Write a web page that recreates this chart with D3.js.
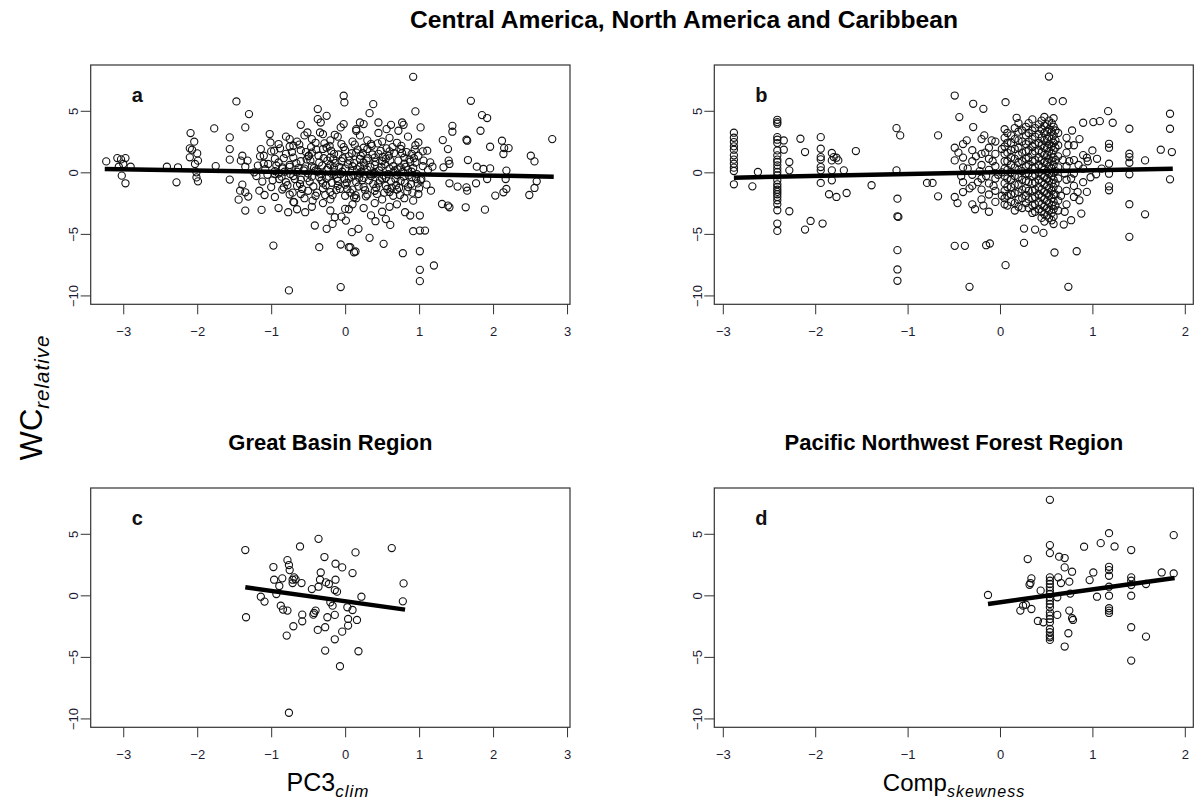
<!DOCTYPE html>
<html>
<head>
<meta charset="utf-8">
<script src="https://cdn.jsdelivr.net/npm/d3@7"></script>
<style>
  html, body { margin: 0; padding: 0; background: #fff; }
  svg { display: block; font-family: Arial, "Liberation Sans", sans-serif; }
</style>
</head>
<body>
<svg id="chart" width="1199" height="801"></svg>
<script>
// ---- data -----------------------------------------------------------------
const xTicksClim = [-3, -2, -1, 0, 1, 2, 3];
const xTicksSkew = [-3, -2, -1, 0, 1, 2];
const yTicks = [5, 0, -5, -10];
const panelLetters = ["a", "b", "c", "d"];

// a: WC_relative vs PC3_clim, whole region
const pointsA = [
  [-3.23,0.89],[-3.08,1.16],[-3.03,1.05],[-2.97,1.16],[-3.0,0.68],[-2.9,0.46],[-3.02,-0.27],[-2.97,-0.89],[-3.06,0.46],
  [-2.41,0.46],[-2.28,-0.81],[-2.26,0.41],[-2.09,3.19],[-2.04,2.49],[-2.1,1.95],[-2.07,1.84],[-2.1,1.22],[-2.0,1.54],
  [-1.99,0.95],[-2.01,0],[-2.01,-0.41],[-1.99,-0.73],[-2.03,0.68],[-1.77,3.57],[-1.75,0.51],[-1.56,2.84],[-1.56,1.89],
  [-1.56,1.03],[-1.56,-0.59],[-1.47,5.76],[-1.3,4.73],[-1.35,3.65],[-1.39,1.35],[-1.41,0.95],[-1.32,0.95],[-1.35,0.46],
  [-1.23,0],[-1.39,-1.0],[-1.42,-1.49],[-1.35,-1.62],[-1.31,-1.97],[-1.44,-2.22],[-1.35,-3.11],[-1.13,-3.05],[-1.16,-1.49],
  [-1.09,-1.84],[-1.14,1.89],[-1.1,1.35],[-1.02,3.11],[-1.01,2.43],[-1.04,0.68],[-0.97,-5.95],[-0.96,1.76],[-0.95,-0.14],
  [-0.89,-0.54],[-0.85,0.41],[-0.83,-1.22],[-0.77,-3.24],[-0.76,-9.59],[-0.75,2.7],[-0.7,2.16],[-0.69,-2.43],[-0.6,3.86],
  [-0.6,-1.76],[-0.54,-3.24],[-0.51,3.24],[-0.49,1.35],[-0.44,-2.3],[-0.41,-4.32],[-0.37,5.14],[-0.37,4.32],[-0.33,4.05],
  [-0.35,-6.08],[-0.34,3.24],[-0.25,4.59],[-0.25,-4.59],[-0.17,-4.19],[-0.14,-3.65],[-0.06,-5.86],[-0.06,-9.32],[-0.02,6.22],
  [-0.01,5.68],[-0.06,3.65],[-0.14,3.05],[0.01,-3.92],[0.07,-6.08],[0.14,-6.43],[0.0,-2.97],[0.12,-2.03],[0.15,3.38],
  [0.92,7.76],[0.38,5.54],[0.33,4.81],[0.95,4.95],[1.7,5.81],[1.85,4.65],[1.92,4.41],[1.83,3.38],[1.45,3.78],[1.45,3.3],
  [1.32,2.62],[1.64,2.65],[1.65,2.57],[1.96,2.08],[2.12,2.57],[2.15,1.97],[2.21,1.97],[2.14,1.49],[2.8,2.7],[2.51,1.35],
  [2.56,0.89],[1.39,1.89],[1.4,0.95],[1.41,0.68],[1.33,0.41],[1.66,1.0],[1.78,0.46],[1.87,0.27],[1.96,0.32],[2.18,0.14],
  [2.17,-0.54],[1.92,-0.54],[1.77,-0.89],[1.64,-1.22],[1.65,-1.49],[1.52,-1.16],[1.41,-0.89],[1.41,-2.84],[1.31,-2.57],
  [1.39,-2.7],[1.63,-2.84],[1.89,-3.03],[2.03,-1.89],[2.14,-1.62],[2.18,-1.35],[2.49,-1.84],[2.56,-1.27],[2.59,-0.73],
  [1.01,-3.51],[1.01,-4.73],[1.08,-4.73],[0.92,-4.78],[0.78,-6.57],[1.01,-6.41],[1.01,-7.92],[1.01,-8.84],[1.2,-7.57],
  [0.61,-4.27],[0.52,-5.81],[0.33,-5.32],[0.12,-6.49],[0.05,-6.08],[0.41,-3.97],[0.09,-4.86],[0.18,-4.59],
  [1.16,-1.49],[1.03,-0.54],[0.99,-1.76],[0.92,-2.3],[0.81,-3.24],[0.88,-3.51],[1.02,3.65],[0.99,2.43],[1.11,1.76],
  [1.15,0.81],[1.18,0.46],[0.77,4.05],[0.79,3.86],[0.62,3.86],[0.72,3.38],[0.56,3.51],[0.45,4.05],[0.25,3.92],[0.2,4.05],
  [0.15,3.51],[-0.02,3.92],
  // dense centre
  [-0.8,2.9],[-0.55,3.0],[-0.3,3.1],[-0.1,2.9],[0.2,3.0],[0.45,3.2],[0.6,2.8],[0.85,2.9],[-0.45,2.7],[0.3,2.6],
  [-0.9,2.3],[-0.65,2.5],[-0.4,2.4],[-0.2,2.6],[-0.05,2.3],[0.1,2.5],[0.35,2.3],[0.5,2.5],[0.7,2.4],[0.95,2.2],
  [-0.75,2.1],[0.25,2.0],[-0.25,2.0],[-1.0,1.7],[-0.8,1.5],[-0.6,1.8],[-0.45,1.6],[-0.3,1.9],[-0.15,1.5],[0.0,1.8],
  [0.15,1.6],[0.3,1.9],[0.45,1.5],[0.6,1.7],[0.75,1.9],[0.9,1.5],[1.05,1.7],[-0.7,1.2],[-0.5,1.3],[-0.2,1.2],
  [0.05,1.3],[0.2,1.1],[0.4,1.2],[0.55,1.1],[0.8,1.2],[-0.95,1.1],[-1.15,1.3],[-1.1,0.7],[-0.9,0.8],[-0.75,0.6],
  [-0.6,0.9],[-0.45,0.5],[-0.35,0.8],[-0.2,0.6],[-0.05,0.9],[0.1,0.5],[0.25,0.8],[0.4,0.6],[0.5,0.9],[0.65,0.5],
  [0.8,0.7],[0.95,0.8],[1.05,0.5],[-0.55,0.3],[-0.25,0.2],[0.0,0.3],[0.3,0.2],[0.6,0.3],[0.85,0.2],[-0.85,0.3],
  [-1.05,-0.2],[-0.9,-0.1],[-0.7,-0.3],[-0.5,-0.1],[-0.35,-0.4],[-0.15,-0.2],[0.05,-0.5],[0.2,-0.1],[0.35,-0.3],[0.5,-0.5],
  [0.7,-0.2],[0.9,-0.4],[-0.6,-0.6],[-0.1,-0.7],[0.15,-0.8],[0.45,-0.9],[0.75,-0.7],[0.98,-0.9],[-0.8,-0.8],[-0.3,-0.9],
  [-1.0,-1.2],[-0.85,-1.4],[-0.65,-1.1],[-0.5,-1.5],[-0.3,-1.3],[-0.1,-1.1],[0.1,-1.4],[0.25,-1.2],[0.4,-1.5],[0.55,-1.1],
  [0.7,-1.4],[0.85,-1.2],[1.0,-1.3],[-0.2,-1.6],[0.0,-1.0],[0.6,-1.6],[-0.95,-2.0],[-0.75,-1.8],[-0.55,-2.1],[-0.4,-1.9],
  [-0.2,-2.2],[0.0,-1.9],[0.15,-2.1],[0.3,-1.8],[0.5,-2.2],[0.65,-1.9],[0.8,-2.1],[-0.7,-2.4],[-0.3,-2.5],[0.1,-2.6],
  [0.4,-2.5],[0.7,-2.6],[-0.9,-2.9],[-0.65,-3.0],[-0.45,-2.8],[-0.2,-3.1],[0.05,-3.0],[0.25,-2.9],[0.5,-3.2],[0.6,-2.8],
  [0.35,-3.5],[-0.05,-3.6],[0.55,-3.8],[-0.95,0.1],[-0.65,0.05],[-0.4,0.15],[-0.15,0.0],[0.1,0.1],[0.4,-0.05],[0.65,0.0],
  [0.9,0.05],[-0.25,-0.5],[0.25,-0.45],[0.55,-0.45],[-0.45,-0.35],[-0.75,0.45],[-0.15,0.4],[0.2,0.45],[0.75,0.4],
  [-0.88,1.95],[-0.82,0.05],[-0.78,-1.05],[-0.72,1.65],[-0.68,-0.55],[-0.66,0.75],[-0.62,2.25],[-0.58,-1.35],[-0.56,0.15],
  [-0.52,1.05],[-0.48,-0.75],[-0.46,2.05],[-0.42,0.35],[-0.38,-1.65],[-0.36,1.35],[-0.33,-0.15],[-0.31,0.55],[-0.28,2.35],
  [-0.26,-1.05],[-0.24,0.95],[-0.22,-0.35],[-0.19,1.75],[-0.17,-1.85],[-0.13,0.75],[-0.11,-0.45],[-0.09,1.45],[-0.07,-1.35],
  [-0.04,0.05],[-0.02,2.05],[0.02,-0.85],[0.04,0.65],[0.07,-1.65],[0.09,1.55],[0.11,-0.25],[0.13,2.25],[0.16,0.25],
  [0.18,-1.15],[0.21,1.35],[0.23,-0.65],[0.26,0.55],[0.28,-1.95],[0.31,1.15],[0.33,-0.15],[0.36,2.15],[0.38,-0.95],
  [0.41,0.85],[0.43,-1.75],[0.46,0.15],[0.48,1.75],[0.52,-0.25],[0.54,0.65],[0.57,-1.35],[0.59,1.35],[0.62,-0.75],
  [0.64,2.05],[0.67,0.15],[0.69,-1.05],[0.72,0.95],[0.74,-1.85],[0.77,1.55],[0.79,-0.35],[0.82,0.45],[0.84,-1.55],
  [0.87,1.05],[0.89,-0.95],[0.92,0.35],[0.94,1.85],[0.97,-0.15],[1.02,-0.65],[1.06,0.95],[1.1,-1.0],[1.12,0.2],
  [-0.86,-0.35],[-0.83,1.15],[-0.74,-0.15],[-0.71,-1.65],[-0.63,0.35],[-0.61,-0.95],[-0.53,1.65],[-0.51,-0.45],[-0.47,0.95],
  [-0.43,-1.15],[-0.39,1.85],[-0.37,0.05],[-0.32,-0.65],[-0.29,1.15],[-0.27,-1.85],[-0.23,0.35],[-0.21,2.15],[-0.18,-0.85],
  [-0.16,1.05],[-0.12,-1.45],[-0.08,0.45],[-0.06,-0.15],[-0.03,1.15],[-0.01,-0.55],[0.03,-1.35],[0.06,0.95],[0.08,-0.35],
  [0.12,0.75],[0.14,-1.85],[0.17,1.85],[0.19,-0.45],[0.22,0.05],[0.24,1.55],[0.27,-1.45],[0.29,0.95],[0.32,-0.65],
  [0.34,0.45],[0.37,1.45],[0.39,-0.15],[0.42,-1.25],[0.44,2.35],[0.47,-0.65],[0.49,0.45],[0.51,1.25],[0.53,-1.65],
  [0.56,1.95],[0.58,-0.15],[0.61,0.95],[0.63,-1.25],[0.66,1.55],[0.68,-0.55],[0.71,0.25],[0.73,-1.25],[0.76,2.15],
  [0.78,0.05],[0.81,-0.85],[0.83,1.65],[0.86,-0.25],[0.88,0.85],[0.91,-1.65],[0.93,1.15],[0.96,-0.55],[0.99,1.35],
  [-0.98,-0.65],[-0.93,0.55],[-1.08,0.25],[-1.12,-0.75],[-1.18,0.55],[-1.2,-0.3]
];

// b: WC_relative vs Comp_skewness, whole region
const pointsB = [
  [-2.88,3.22],[-2.88,2.81],[-2.88,2.46],[-2.88,2.11],[-2.88,1.84],[-2.88,1.38],[-2.88,1.03],[-2.88,0.7],[-2.88,0.38],
  [-2.88,0.11],[-2.88,-0.97],[-2.68,-1.14],[-2.62,0.03],
  [-2.41,4.27],[-2.41,4.08],[-2.41,3.95],[-2.41,2.86],[-2.41,2.65],[-2.41,2.38],[-2.41,1.78],[-2.41,1.38],[-2.41,1.03],
  [-2.41,0.84],[-2.41,0.57],[-2.41,0.3],[-2.41,0.03],[-2.41,-0.24],[-2.41,-0.65],[-2.41,-0.97],[-2.41,-1.19],[-2.41,-1.41],
  [-2.41,-1.59],[-2.41,-1.78],[-2.41,-2.0],[-2.41,-2.27],[-2.41,-2.59],[-2.41,-3.08],[-2.41,-4.16],[-2.41,-4.76],
  [-2.34,2.59],[-2.34,1.84],[-2.28,0.84],[-2.28,0.16],[-2.28,-3.16],[-2.16,2.73],[-2.11,1.65],[-2.11,-4.65],[-2.05,-3.95],
  [-1.94,2.86],[-1.94,1.92],[-1.94,1.24],[-1.94,1.05],[-1.94,0.43],[-1.94,0.16],[-1.94,-0.86],[-1.92,-4.16],[-1.85,-1.78],
  [-1.82,1.57],[-1.82,0.97],[-1.82,0.16],[-1.82,-0.65],[-1.8,1.24],[-1.77,1.19],[-1.75,0.97],[-1.77,-2.0],[-1.69,0.16],
  [-1.66,-1.68],[-1.56,1.73],[-1.39,-1.05],[-1.12,3.59],[-1.08,3.0],[-1.12,0.16],[-1.11,-2.14],[-1.11,-3.57],[-1.1,-3.62],
  [-1.11,-6.32],[-1.11,-7.89],[-1.11,-8.81],[-0.79,-0.86],[-0.73,-0.86],[-0.67,-1.95],[-0.67,3.0],
  [-0.49,6.24],[-0.49,2.0],[-0.49,0.97],[-0.49,-2.0],[-0.49,-5.97],[-0.38,-5.97],[-0.44,4.49],[-0.33,-9.3],[-0.29,5.57],
  [-0.29,3.68],[-0.18,5.16],[-0.17,3.0],[-0.15,-5.92],[-0.11,-5.78],[0.06,5.7],[0.06,-7.54],[0.18,4.43],[0.26,-4.57],
  [0.26,-5.73],[0.38,-4.65],[0.47,-4.92],[0.53,7.78],[0.57,5.78],[0.68,5.78],[0.59,-6.51],[0.74,-9.3],[0.83,-6.41],
  [0.69,-4.24],[0.77,-3.89],[0.88,-3.35],[0.94,-1.59],[0.86,-2.27],[0.9,4.03],[1.01,4.08],[1.08,4.16],[1.17,4.97],
  [1.22,4.03],[1.18,2.32],[1.18,2.0],[1.18,0.7],[1.18,-0.11],[1.18,-1.14],[1.18,-1.46],[1.04,-0.16],[1.0,1.78],[0.94,1.19],
  [1.4,3.54],[1.4,1.51],[1.4,1.24],[1.4,0.78],[1.4,-0.16],[1.4,-2.59],[1.4,-5.24],[1.57,0.97],[1.57,-3.41],[1.74,1.84],
  [1.84,4.76],[1.84,3.54],[1.86,1.65],[1.84,-0.57],
  // dense columns between 0 and 0.65
  [0.05,3.5],[0.05,2.8],[0.05,2.1],[0.05,1.5],[0.05,0.9],[0.05,0.3],[0.05,-0.3],[0.05,-0.9],[0.05,-1.5],[0.05,-2.1],[0.05,-2.6],
  [0.12,3.0],[0.12,2.4],[0.12,1.8],[0.12,1.2],[0.12,0.6],[0.12,0.0],[0.12,-0.6],[0.12,-1.2],[0.12,-1.8],[0.12,-2.4],
  [0.2,4.0],[0.2,3.3],[0.2,2.6],[0.2,2.0],[0.2,1.4],[0.2,0.8],[0.2,0.2],[0.2,-0.4],[0.2,-1.0],[0.2,-1.6],[0.2,-2.2],[0.2,-2.8],
  [0.28,3.7],[0.28,3.0],[0.28,2.3],[0.28,1.7],[0.28,1.1],[0.28,0.5],[0.28,-0.1],[0.28,-0.7],[0.28,-1.3],[0.28,-1.9],[0.28,-2.5],
  [0.35,4.3],[0.35,3.4],[0.35,2.7],[0.35,2.1],[0.35,1.5],[0.35,0.9],[0.35,0.3],[0.35,-0.3],[0.35,-0.9],[0.35,-1.5],[0.35,-2.1],
  [0.35,-2.7],[0.35,-3.3],
  [0.42,3.9],[0.42,3.1],[0.42,2.4],[0.42,1.8],[0.42,1.2],[0.42,0.6],[0.42,0.0],[0.42,-0.6],[0.42,-1.2],[0.42,-1.8],[0.42,-2.4],
  [0.42,-3.0],
  [0.48,4.5],[0.48,3.8],[0.48,3.2],[0.48,2.6],[0.48,2.0],[0.48,1.4],[0.48,0.8],[0.48,0.2],[0.48,-0.4],[0.48,-1.0],[0.48,-1.6],
  [0.48,-2.2],[0.48,-2.8],[0.48,-3.4],[0.48,-4.0],
  [0.53,4.2],[0.53,3.5],[0.53,2.9],[0.53,2.3],[0.53,1.7],[0.53,1.1],[0.53,0.5],[0.53,-0.1],[0.53,-0.7],[0.53,-1.3],[0.53,-1.9],
  [0.53,-2.5],[0.53,-3.1],[0.53,-3.7],
  [0.58,4.4],[0.58,3.7],[0.58,3.0],[0.58,2.4],[0.58,1.8],[0.58,1.2],[0.58,0.6],[0.58,0.0],[0.58,-0.6],[0.58,-1.2],[0.58,-1.8],
  [0.58,-2.4],[0.58,-3.0],[0.58,-3.6],[0.58,-4.2],
  [0.63,3.2],[0.63,2.2],[0.63,1.3],[0.63,0.4],[0.63,-0.5],[0.63,-1.4],[0.63,-2.3],[0.63,-3.1],
  [0.08,3.2],[0.08,2.4],[0.08,1.6],[0.08,0.9],[0.08,0.2],[0.08,-0.5],[0.08,-1.2],[0.08,-1.9],[0.08,-2.7],
  [0.16,3.6],[0.16,2.7],[0.16,1.9],[0.16,1.1],[0.16,0.4],[0.16,-0.3],[0.16,-1.0],[0.16,-1.7],[0.16,-2.5],[0.16,-3.1],
  [0.24,3.4],[0.24,2.5],[0.24,1.6],[0.24,0.9],[0.24,0.1],[0.24,-0.6],[0.24,-1.4],[0.24,-2.1],[0.24,-2.9],
  [0.31,4.0],[0.31,3.2],[0.31,2.5],[0.31,1.8],[0.31,1.2],[0.31,0.6],[0.31,-0.1],[0.31,-0.8],[0.31,-1.5],[0.31,-2.2],[0.31,-2.9],
  [0.38,3.6],[0.38,2.9],[0.38,2.3],[0.38,1.7],[0.38,1.0],[0.38,0.4],[0.38,-0.2],[0.38,-0.8],[0.38,-1.4],[0.38,-2.0],
  [0.38,-2.6],[0.38,-3.2],
  [0.45,4.2],[0.45,3.5],[0.45,2.8],[0.45,2.2],[0.45,1.6],[0.45,1.0],[0.45,0.4],[0.45,-0.2],[0.45,-0.8],[0.45,-1.4],
  [0.45,-2.0],[0.45,-2.6],[0.45,-3.2],[0.45,-3.7],
  [0.51,3.9],[0.51,3.3],[0.51,2.7],[0.51,2.0],[0.51,1.4],[0.51,0.8],[0.51,0.1],[0.51,-0.5],[0.51,-1.1],[0.51,-1.7],
  [0.51,-2.3],[0.51,-2.9],[0.51,-3.5],
  [0.56,4.0],[0.56,3.3],[0.56,2.7],[0.56,2.1],[0.56,1.5],[0.56,0.9],[0.56,0.3],[0.56,-0.3],[0.56,-0.9],[0.56,-1.5],
  [0.56,-2.1],[0.56,-2.7],[0.56,-3.3],[0.56,-3.9],
  [0.6,3.4],[0.6,2.6],[0.6,2.0],[0.6,1.0],[0.6,0.1],[0.6,-0.9],[0.6,-1.8],[0.6,-2.7],
  [0.02,1.9],[0.02,0.0],[0.02,-1.9],
  [-0.05,2.5],[-0.05,1.5],[-0.05,0.5],[-0.05,-0.5],[-0.05,-1.5],[-0.05,-2.4],
  [-0.4,2.3],[-0.4,1.2],[-0.4,0.4],[-0.4,-0.8],[-0.4,-1.6],[-0.3,1.8],[-0.3,0.9],[-0.3,-0.2],[-0.3,-1.1],[-0.3,-2.6],
  [-0.2,2.7],[-0.2,1.5],[-0.2,0.6],[-0.2,-0.5],[-0.2,-1.4],[-0.2,-2.2],[-0.12,2.0],[-0.12,1.1],[-0.12,0.2],[-0.12,-0.9],
  [-0.12,-1.8],[-0.12,-3.2],
  [-0.45,1.6],[-0.42,-0.3],[-0.36,2.6],[-0.35,0.3],[-0.33,-1.3],[-0.26,1.3],[-0.24,-0.8],[-0.22,0.1],[-0.16,1.6],
  [-0.15,-0.3],[-0.08,0.9],[-0.07,-1.1],[-0.09,2.6],[-0.02,-0.2],[-0.46,-2.5],[-0.27,-3.0],[-0.18,-2.7],
  [0.72,2.8],[0.72,1.6],[0.72,0.5],[0.72,-0.6],[0.72,-1.5],[0.72,-2.6],[0.8,2.2],[0.8,1.0],[0.8,-0.1],[0.8,-1.1],[0.8,-2.0],
  [0.9,1.4],[0.9,0.3],[0.9,-0.8],[0.78,3.4],[0.7,-3.2],
  [0.68,1.0],[0.7,-0.1],[0.66,-1.9],[0.75,0.9],[0.77,-0.5],[0.85,0.6],[0.84,-1.6],[0.95,0.9],[0.98,-0.4],[0.74,2.2],
  [0.86,2.7],[1.1,0.3],[1.05,1.1]
];

// c: Great Basin Region
const pointsC = [
  [-1.35,3.68],[-1.34,-1.78],[-1.14,-0.11],[-1.09,-0.51],[-0.97,2.3],[-0.96,1.27],[-0.93,0.11],[-0.89,0.76],[-0.85,1.38],
  [-0.87,-0.84],[-0.84,-1.16],[-0.78,2.86],[-0.76,2.46],[-0.75,2.05],[-0.78,-1.24],[-0.79,-3.27],[-0.76,-9.54],[-0.71,1.27],
  [-0.69,1.46],[-0.67,1.3],[-0.71,1.0],[-0.7,-2.51],[-0.61,3.97],[-0.59,1.0],[-0.58,-1.57],[-0.58,-2.11],[-0.45,0.51],
  [-0.42,-1.43],[-0.4,-1.24],[-0.43,-1.57],[-0.37,-2.81],[-0.36,4.59],[-0.36,0.7],[-0.33,1.86],[-0.34,1.27],[-0.28,3.11],
  [-0.26,1.05],[-0.27,-2.59],[-0.27,-4.49],[-0.24,-1.78],[-0.22,0.92],[-0.2,-0.57],[-0.17,-0.84],[-0.14,-1.59],[-0.13,2.57],
  [-0.13,1.27],[-0.14,0.43],[-0.11,0.3],[-0.14,-3.57],[-0.07,-5.76],[-0.04,2.27],[-0.04,-2.95],[0.03,-0.97],[0.04,-1.92],
  [0.04,-2.46],[0.1,1.81],[0.1,-1.19],[0.14,3.49],[0.16,-2.0],[0.18,-4.54],[0.22,-0.11],[0.63,3.84],[0.79,0.97],[0.78,-0.49]
];

// d: Pacific Northwest Forest Region
const pointsD = [
  [-0.13,0.03],[0.22,-1.24],[0.25,-0.84],[0.28,-0.76],[0.3,2.95],[0.32,0.86],[0.33,1.0],[0.34,1.38],[0.34,-1.11],
  [0.41,-2.08],[0.44,0.38],[0.47,-2.19],[0.54,7.76],[0.54,4.08],[0.54,3.43],
  [0.54,1.46],[0.54,1.19],[0.54,0.92],[0.54,0.65],[0.54,0.38],[0.54,0.11],[0.54,-0.16],[0.54,-0.43],[0.54,-0.7],[0.54,-0.97],
  [0.54,-1.38],[0.54,-1.65],[0.54,-1.92],[0.54,-2.19],[0.54,-2.73],[0.54,-3.0],[0.54,-3.27],[0.54,-3.41],[0.54,-3.62],
  [0.62,-0.16],[0.62,-1.59],[0.63,1.46],[0.64,3.14],[0.66,1.0],[0.7,3.03],[0.7,2.27],[0.7,-4.16],[0.74,-3.08],[0.75,1.11],
  [0.76,0.14],[0.75,-1.24],[0.78,1.92],[0.78,-1.86],[0.79,-2.0],[0.91,3.95],[0.97,1.24],[1.01,1.86],[1.05,-0.11],[1.09,4.24],
  [1.18,5.05],[1.18,2.32],[1.18,2.05],[1.18,1.59],[1.18,0.7],[1.18,-0.03],[1.18,-1.05],[1.18,-1.24],[1.18,-1.43],[1.24,3.97],
  [1.42,3.68],[1.42,1.46],[1.42,1.19],[1.42,0.84],[1.42,-0.03],[1.42,-2.59],[1.42,-5.3],[1.58,0.92],[1.58,-3.35],[1.75,1.86],
  [1.88,4.89],[1.88,1.78]
];

// fitted lines: [x0, y0, x1, y1]
const fitA = [-3.25, 0.28, 2.82, -0.35];
const fitB = [-2.88, -0.43, 1.87, 0.3];
const fitC = [-1.35, 0.66, 0.81, -1.16];
const fitD = [-0.13, -0.7, 1.89, 1.41];

// ---- layout ---------------------------------------------------------------
const svg = d3.select("#chart");
const colL = [90.7, 570], colR = [714.3, 1193.3];
const rowT = [304.3, 65], rowB = [727.3, 488];

const panels = [
  { pts: pointsA, fit: fitA, xlim: [-3.2, 2.8], xr: colL, yr: rowT, ticks: xTicksClim, letter: panelLetters[0] },
  { pts: pointsB, fit: fitB, xlim: [-2.9, 1.9], xr: colR, yr: rowT, ticks: xTicksSkew, letter: panelLetters[1] },
  { pts: pointsC, fit: fitC, xlim: [-3.2, 2.8], xr: colL, yr: rowB, ticks: xTicksClim, letter: panelLetters[2] },
  { pts: pointsD, fit: fitD, xlim: [-2.9, 1.9], xr: colR, yr: rowB, ticks: xTicksSkew, letter: panelLetters[3] }
];

// R-style 4% padding on both ends of a range
function pad(lim) {
  const d = (lim[1] - lim[0]) * 0.04;
  return [lim[0] - d, lim[1] + d];
}

panels.forEach(p => {
  const x = d3.scaleLinear().domain(pad(p.xlim)).range(p.xr);
  const y = d3.scaleLinear().domain(pad([-10, 8])).range(p.yr);
  const g = svg.append("g");

  // x axis
  const xa = g.append("g")
    .attr("transform", `translate(0,${p.yr[0]})`)
    .call(d3.axisBottom(x).tickValues(p.ticks).tickSize(10).tickPadding(12).tickFormat(d3.format("d")));
  xa.select(".domain").remove();
  xa.selectAll("line").attr("stroke", "#333");
  xa.selectAll("text").attr("font-size", 13).attr("fill", "#1c1c34")
    .attr("font-family", "Arial, 'Liberation Sans', sans-serif");

  // y axis with labels parallel to the axis
  const ya = g.append("g")
    .attr("transform", `translate(${p.xr[0]},0)`)
    .call(d3.axisLeft(y).tickValues(yTicks).tickSize(10).tickFormat(d3.format("d")));
  ya.select(".domain").remove();
  ya.selectAll("line").attr("stroke", "#333");
  ya.selectAll("text")
    .attr("font-size", 13).attr("fill", "#1c1c34")
    .attr("font-family", "Arial, 'Liberation Sans', sans-serif")
    .attr("x", null).attr("dy", null)
    .attr("text-anchor", "middle")
    .attr("transform", "translate(-17,0) rotate(-90) translate(0,4.5)");

  // frame
  g.append("rect")
    .attr("x", p.xr[0]).attr("y", p.yr[1])
    .attr("width", p.xr[1] - p.xr[0]).attr("height", p.yr[0] - p.yr[1])
    .attr("fill", "none").attr("stroke", "#333").attr("stroke-width", 1.2);

  // points
  g.append("g").selectAll("circle").data(p.pts).join("circle")
    .attr("cx", d => x(d[0])).attr("cy", d => y(d[1])).attr("r", 3.6)
    .attr("fill", "none").attr("stroke", "#111").attr("stroke-width", 1.1);

  // fitted line
  g.append("line")
    .attr("x1", x(p.fit[0])).attr("y1", y(p.fit[1]))
    .attr("x2", x(p.fit[2])).attr("y2", y(p.fit[3]))
    .attr("stroke", "#000").attr("stroke-width", 4.5);

  // panel letter
  g.append("text")
    .attr("x", p.xr[0] + 41).attr("y", p.yr[1] + 37)
    .attr("font-size", 20).attr("font-weight", "bold").attr("fill", "#111")
    .text(p.letter);
});

// ---- titles and axis names -----------------------------------------------
svg.append("text")
  .attr("x", 684).attr("y", 28).attr("text-anchor", "middle")
  .attr("font-size", 23).attr("font-weight", "bold").attr("fill", "#000")
  .attr("textLength", 548).attr("lengthAdjust", "spacingAndGlyphs")
  .text("Central America, North America and Caribbean");

svg.append("text")
  .attr("x", (colL[0] + colL[1]) / 2).attr("y", 450).attr("text-anchor", "middle")
  .attr("font-size", 22).attr("font-weight", "bold").attr("fill", "#000")
  .text("Great Basin Region");

svg.append("text")
  .attr("x", (colR[0] + colR[1]) / 2).attr("y", 450).attr("text-anchor", "middle")
  .attr("font-size", 22).attr("font-weight", "bold").attr("fill", "#000")
  .text("Pacific Northwest Forest Region");

function subLabel(x, y, main, sub, size, subSize, rotate) {
  const t = svg.append("text")
    .attr("text-anchor", "middle")
    .attr("transform", `translate(${x},${y})` + (rotate ? " rotate(-90)" : ""))
    .attr("fill", "#000");
  t.append("tspan").attr("font-size", size).text(main);
  t.append("tspan").attr("font-size", subSize).attr("font-style", "italic")
    .attr("dy", subSize * 0.35).attr("letter-spacing", 1).text(sub);
}

subLabel(328, 791, "PC3", "clim", 25, 17, false);
subLabel(954, 791, "Comp", "skewness", 24, 16, false);
subLabel(42, 397.5, "WC", "relative", 31, 20.5, true);
</script>
</body>
</html>
